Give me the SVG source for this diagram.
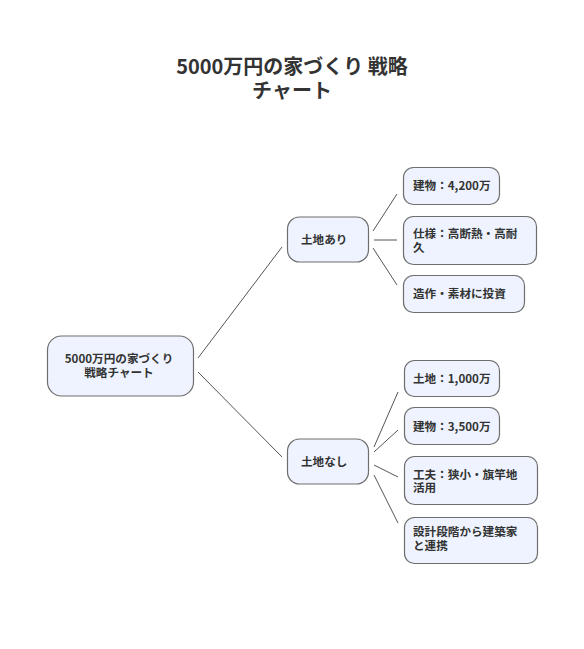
<svg xmlns="http://www.w3.org/2000/svg" width="584" height="649" viewBox="0 0 584 649">
<style>
.n{fill:#eef3ff;stroke:#6e6e6e;stroke-width:1.2}
.t{font-family:"Noto Sans CJK JP","Noto Sans",sans-serif;font-size:11.6px;font-weight:700;fill:#333}
.title{font-family:"Noto Sans CJK JP","Noto Sans",sans-serif;font-size:20px;font-weight:700;fill:#333;text-anchor:middle}
.c{stroke:#555;stroke-width:1;fill:none}
</style>
<rect width="584" height="649" fill="#fff"/>
<text class="title" x="292" y="74">5000万円の家づくり 戦略</text>
<text class="title" x="292" y="97.5">チャート</text>
<g id="connectors">
<line class="c" x1="198" y1="358" x2="282" y2="247"/>
<line class="c" x1="198" y1="372" x2="282" y2="457"/>
<line class="c" x1="373" y1="231" x2="397" y2="194"/>
<line class="c" x1="374" y1="240" x2="397" y2="240"/>
<line class="c" x1="373" y1="248" x2="397" y2="285"/>
<line class="c" x1="374" y1="447" x2="398" y2="392"/>
<line class="c" x1="374" y1="452" x2="398" y2="430"/>
<line class="c" x1="374" y1="465" x2="398" y2="477"/>
<line class="c" x1="374" y1="475" x2="398" y2="523"/>
</g>
<g id="root">
<rect class="n" x="47.5" y="336" width="146" height="60" rx="14"/>
<text class="t" x="119" y="363" text-anchor="middle">5000万円の家づくり</text>
<text class="t" x="119" y="377" text-anchor="middle">戦略チャート</text>
</g>
<g id="with-land">
<rect class="n" x="287.5" y="217" width="81" height="45" rx="12"/>
<text class="t" x="301" y="243.5">土地あり</text>
</g>
<g id="without-land">
<rect class="n" x="287.5" y="439" width="81" height="45" rx="12"/>
<text class="t" x="301" y="465.5">土地なし</text>
</g>
<g id="a1">
<rect class="n" x="403.5" y="167.5" width="96" height="37" rx="10"/>
<text class="t" x="413" y="190">建物：4,200万</text>
</g>
<g id="a2">
<rect class="n" x="403.5" y="216.5" width="133" height="48" rx="10"/>
<text class="t" x="413" y="238">仕様：高断熱・高耐</text>
<text class="t" x="413" y="252">久</text>
</g>
<g id="a3">
<rect class="n" x="403.5" y="275.5" width="121" height="37" rx="10"/>
<text class="t" x="413" y="297.5">造作・素材に投資</text>
</g>
<g id="b1">
<rect class="n" x="404.5" y="360.5" width="95" height="36" rx="10"/>
<text class="t" x="413" y="382.5">土地：1,000万</text>
</g>
<g id="b2">
<rect class="n" x="404.5" y="407.5" width="95" height="37" rx="10"/>
<text class="t" x="413" y="430.5">建物：3,500万</text>
</g>
<g id="b3">
<rect class="n" x="404.5" y="456.5" width="133" height="48" rx="10"/>
<text class="t" x="413" y="478.5">工夫：狭小・旗竿地</text>
<text class="t" x="413" y="492">活用</text>
</g>
<g id="b4">
<rect class="n" x="404.5" y="517.5" width="133" height="46" rx="10"/>
<text class="t" x="413" y="536">設計段階から建築家</text>
<text class="t" x="413" y="550">と連携</text>
</g>
</svg>
